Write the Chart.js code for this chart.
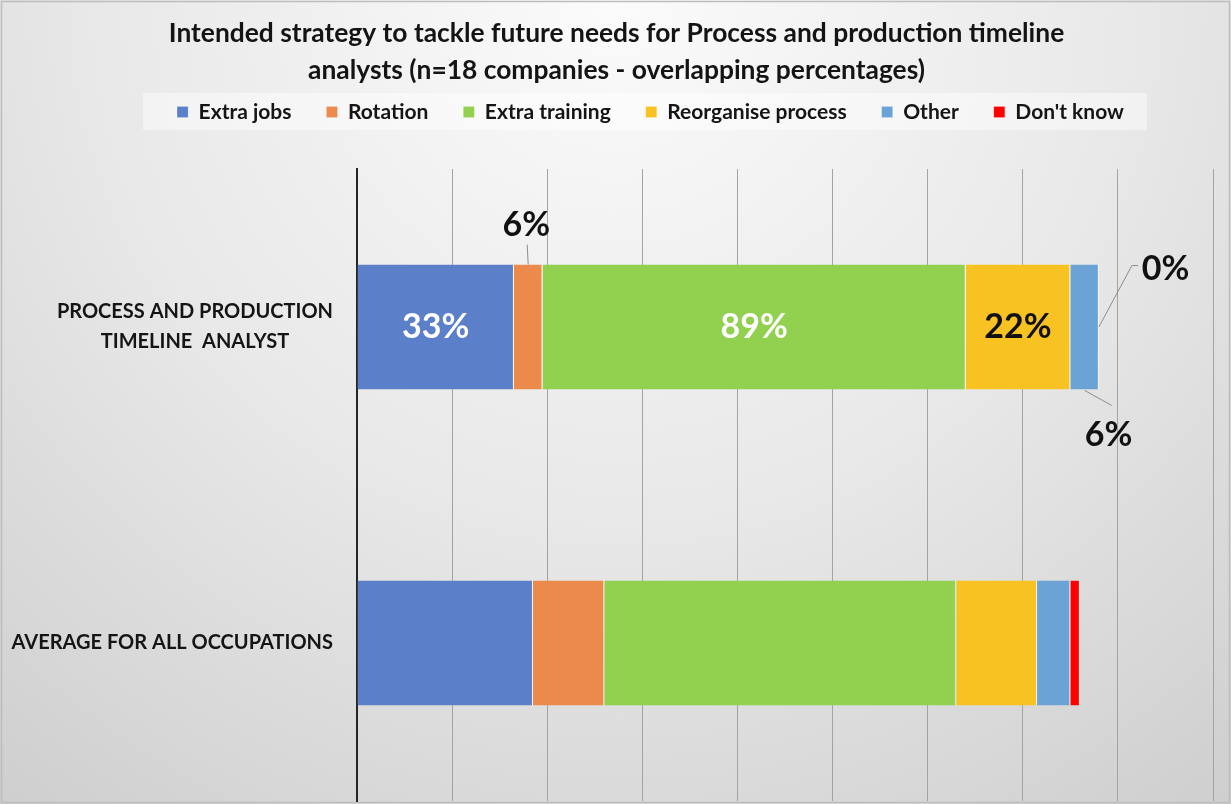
<!DOCTYPE html>
<html>
<head>
<meta charset="utf-8">
<script src="https://cdn.jsdelivr.net/npm/chart.js@4.4.1/dist/chart.umd.min.js"></script>
<style>
  html, body { margin: 0; padding: 0; background: #ffffff; }
  #wrap { position: relative; width: 1231px; height: 804px; }
</style>
</head>
<body>
<div id="wrap"><canvas id="strategyChart" width="1231" height="804"></canvas></div>
<script>
// categories (y axis) and one array per strategy, in percent of companies
const categories = [
  ['PROCESS AND PRODUCTION', 'TIMELINE  ANALYST'],
  ['AVERAGE FOR ALL OCCUPATIONS']
];
const seriesNames = ['Extra jobs', 'Rotation', 'Extra training', 'Reorganise process', 'Other', "Don't know"];
const extraJobs = [33, 37];
const rotation = [6, 15];
const extraTraining = [89, 74];
const reorganise = [22, 17];
const other = [6, 7];
const dontKnow = [0, 2];
const xTicks = [0, 20, 40, 60, 80, 100, 120, 140, 160, 180];

const colors = ['#5b7fc9', '#eb8a4a', '#92d050', '#f9c223', '#6ca3d6', '#ff0000'];
const FONT = 'Lato, "Open Sans", sans-serif';

const seriesValues = [extraJobs, rotation, extraTraining, reorganise, other, dontKnow];

// how each value label is placed on the occupation bar (index 0);
// the average bar carries no labels
const labelStyle = [
  { kind: 'inside', color: '#ffffff' },
  { kind: 'above', color: '#111111' },
  { kind: 'inside', color: '#ffffff' },
  { kind: 'inside', color: '#111111' },
  { kind: 'below', color: '#111111' },
  { kind: 'upright', color: '#111111' }
];

// title centred on the whole canvas, legend nudged right
const headerShift = {
  id: 'headerShift',
  afterLayout(chart) {
    const t = chart.titleBlock, l = chart.legend;
    t.left += 10; t.right += 10;
    l.left += 44; l.right += 44;
  }
};

// radial grey background plus a light panel behind the legend
const backdrop = {
  id: 'backdrop',
  beforeDraw(chart) {
    const { ctx, width, height } = chart;
    ctx.save();
    const g = ctx.createRadialGradient(width * 0.5, 0, 0, width * 0.5, 0, width * 0.95);
    g.addColorStop(0, '#fbfbfb');
    g.addColorStop(0.45, '#e8e8e8');
    g.addColorStop(1, '#c6c6c6');
    ctx.fillStyle = g;
    ctx.fillRect(0, 0, width, height);

    const boxes = chart.legend.legendHitBoxes;
    if (boxes && boxes.length) {
      const l = Math.min(...boxes.map(b => b.left)) - 34;
      const r = Math.max(...boxes.map(b => b.left + b.width)) + 23;
      const t = boxes[0].top - 8.5;
      const h = boxes[0].height + 16;
      ctx.fillStyle = 'rgba(255,255,255,0.45)';
      ctx.fillRect(l, t, r - l, h);
    }
    ctx.strokeStyle = '#bdbdbd';
    ctx.lineWidth = 1.5;
    ctx.strokeRect(1.5, 1.5, width - 3, height - 3);
    ctx.restore();
  }
};

// category names on the left, lines centred on each other
const sideLabels = {
  id: 'sideLabels',
  afterDraw(chart) {
    const { ctx, chartArea } = chart;
    const yScale = chart.scales.y;
    ctx.save();
    ctx.font = 'bold 20px ' + FONT;
    ctx.fillStyle = '#151515';
    ctx.textBaseline = 'middle';
    ctx.textAlign = 'center';
    const right = chartArea.left - 24;
    const lineH = 30;
    categories.forEach((lines, i) => {
      const w = Math.max(...lines.map(s => ctx.measureText(s).width));
      const cx = right - w / 2;
      const cy = yScale.getPixelForValue(i);
      lines.forEach((s, j) => {
        ctx.fillText(s, cx, cy + (j - (lines.length - 1) / 2) * lineH);
      });
    });
    ctx.restore();
  }
};

// value labels with leader lines for the thin segments
const valueLabels = {
  id: 'valueLabels',
  afterDatasetsDraw(chart) {
    const { ctx } = chart;
    ctx.save();
    ctx.font = 'bold 34px ' + FONT;
    ctx.textBaseline = 'middle';
    chart.data.datasets.forEach((ds, di) => {
      const el = chart.getDatasetMeta(di).data[0];
      const st = labelStyle[di];
      const text = ds.data[0] + '%';
      const left = el.base, right = el.x;
      const top = el.y - el.height / 2, bottom = el.y + el.height / 2;
      const cx = (left + right) / 2;
      ctx.fillStyle = st.color;
      ctx.strokeStyle = '#8c8c8c';
      ctx.lineWidth = 1;
      if (st.kind === 'inside') {
        ctx.textAlign = 'center';
        ctx.fillText(text, cx, el.y);
      } else if (st.kind === 'above') {
        ctx.beginPath();
        ctx.moveTo(cx, top);
        ctx.lineTo(cx - 1, top - 20);
        ctx.stroke();
        ctx.textAlign = 'center';
        ctx.fillText(text, cx - 2, top - 40);
      } else if (st.kind === 'below') {
        ctx.beginPath();
        ctx.moveTo(cx, bottom + 1);
        ctx.lineTo(cx + 27, bottom + 16);
        ctx.stroke();
        ctx.textAlign = 'center';
        ctx.fillText(text, cx + 24, bottom + 46);
      } else if (st.kind === 'upright') {
        ctx.beginPath();
        ctx.moveTo(right, el.y);
        ctx.lineTo(right + 33, top + 1);
        ctx.lineTo(right + 39, top + 1);
        ctx.stroke();
        ctx.textAlign = 'left';
        ctx.fillText(text, right + 43, top + 4);
      }
    });
    ctx.restore();
  }
};

const datasets = seriesNames.map((name, i) => ({
  label: name,
  data: seriesValues[i],
  backgroundColor: colors[i],
  borderColor: 'rgba(255,255,255,0.7)',
  borderWidth: { left: 0, right: 1, top: 0, bottom: 0 },
  borderSkipped: false,
  barPercentage: 0.395,
  categoryPercentage: 1
}));

new Chart(document.getElementById('strategyChart'), {
  type: 'bar',
  data: {
    labels: categories.map(c => c.join(' ')),
    datasets: datasets
  },
  plugins: [headerShift, backdrop, sideLabels, valueLabels],
  options: {
    indexAxis: 'y',
    responsive: false,
    animation: false,
    events: [],
    layout: { padding: { top: 14.5, right: 18, bottom: 3, left: 0 } },
    plugins: {
      title: {
        display: true,
        text: ['Intended strategy to tackle future needs for Process and production timeline',
               'analysts (n=18 companies - overlapping percentages)'],
        color: '#141414',
        font: { family: FONT, size: 26.4, weight: 'bold', lineHeight: 37 / 26.4 },
        padding: { top: 0, bottom: -22 }
      },
      legend: {
        display: true,
        position: 'top',
        labels: {
          color: '#151515',
          font: { family: FONT, size: 21, weight: 'bold' },
          boxWidth: 11,
          boxHeight: 11,
          padding: 35
        }
      },
      tooltip: { enabled: false }
    },
    scales: {
      x: {
        position: 'top',
        stacked: true,
        min: 0,
        max: 180,
        afterBuildTicks(scale) { scale.ticks = xTicks.map(v => ({ value: v })); },
        afterFit(scale) { scale.height = 36.5; },
        ticks: { display: false },
        grid: { color: '#a3a3a3', lineWidth: 1, drawTicks: false },
        border: { display: false }
      },
      y: {
        stacked: true,
        ticks: { display: false },
        grid: { display: false, drawTicks: false },
        border: { display: true, color: '#262626', width: 2 },
        afterFit(scale) { scale.width = 357; }
      }
    }
  }
});
</script>
</body>
</html>
